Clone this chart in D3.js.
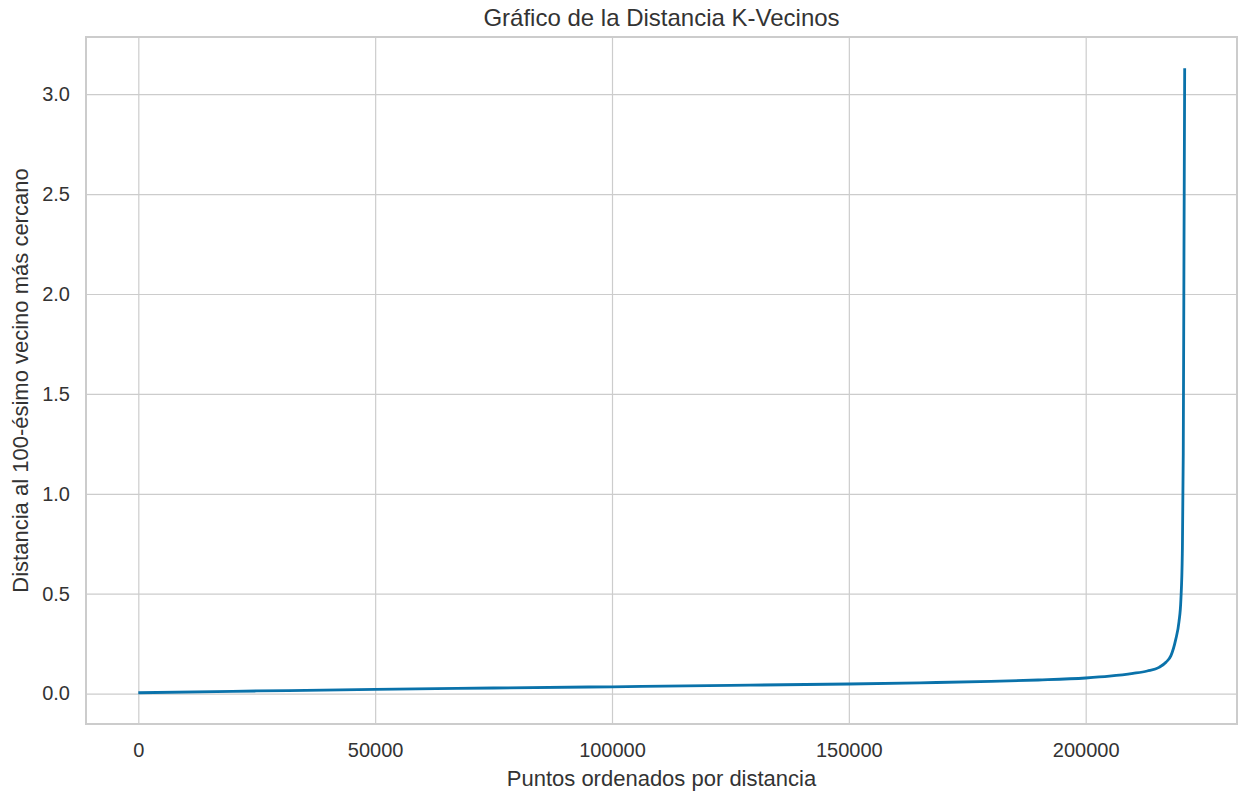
<!DOCTYPE html>
<html>
<head>
<meta charset="utf-8">
<script src="https://cdn.jsdelivr.net/npm/d3@7"></script>
<style>
  body { margin: 0; background: #fff; }
  svg { display: block; font-family: "Liberation Sans", Arial, sans-serif; }
</style>
</head>
<body>
<div id="chart"></div>
<script>
// sorted k-distance curve
const pointIndex = [0, 25000, 50000, 75000, 100000, 125000, 150000, 165000, 180000, 190000,
    200000, 205000, 210000, 213000, 215500, 217000, 218000, 219000, 219700, 220100,
    220400, 220600, 220750, 220900];
const kDistance = [0.004, 0.013, 0.021, 0.028, 0.034, 0.041, 0.048, 0.054, 0.061, 0.068,
    0.078, 0.087, 0.101, 0.113, 0.131, 0.158, 0.19, 0.27, 0.36, 0.47,
    0.70, 1.2, 2.2, 3.13];
const xTicks = [0, 50000, 100000, 150000, 200000];
const yTicks = [0, 0.5, 1.0, 1.5, 2.0, 2.5, 3.0];

const W = 1238, H = 792;
const margin = { top: 37, right: 1, bottom: 68, left: 86 };
const width = W - margin.left - margin.right;
const height = H - margin.top - margin.bottom;

const data = pointIndex.map((d, i) => ({ x: d, y: kDistance[i] }));

const svg = d3.select('#chart').append('svg')
    .attr('width', W)
    .attr('height', H);

const g = svg.append('g')
    .attr('transform', `translate(${margin.left},${margin.top})`);

// matplotlib-like 5% padding
const xExt = d3.extent(data, d => d.x);
const yExt = d3.extent(data, d => d.y);
const xPad = (xExt[1] - xExt[0]) * 0.05;
const yPad = (yExt[1] - yExt[0]) * 0.05;

const x = d3.scaleLinear().domain([xExt[0] - xPad, xExt[1] + xPad]).range([0, width]);
const y = d3.scaleLinear().domain([yExt[0] - yPad, yExt[1] + yPad]).range([height, 0]);

// grid
g.append('g')
    .attr('transform', `translate(0,${height})`)
    .call(d3.axisBottom(x).tickValues(xTicks).tickSize(-height).tickFormat(d3.format('d')).tickPadding(19))
    .call(a => a.select('.domain').remove())
    .call(a => a.selectAll('line').attr('stroke', '#cccccc').attr('stroke-width', 1.2))
    .call(a => a.selectAll('text').attr('fill', '#333').attr('font-size', '20px'));

g.append('g')
    .call(d3.axisLeft(y).tickValues(yTicks).tickSize(-width).tickFormat(d3.format('.1f')).tickPadding(16))
    .call(a => a.select('.domain').remove())
    .call(a => a.selectAll('line').attr('stroke', '#cccccc').attr('stroke-width', 1.2))
    .call(a => a.selectAll('text').attr('fill', '#333').attr('font-size', '20px'));

// frame
g.append('rect')
    .attr('width', width)
    .attr('height', height)
    .attr('fill', 'none')
    .attr('stroke', '#cccccc')
    .attr('stroke-width', 2);

// curve
const line = d3.line()
    .x(d => x(d.x))
    .y(d => y(d.y))
    .curve(d3.curveMonotoneX);

g.append('path')
    .datum(data)
    .attr('fill', 'none')
    .attr('stroke', '#0a72aa')
    .attr('stroke-width', 2.8)
    .attr('d', line);

// title and labels
svg.append('text')
    .attr('x', margin.left + width / 2)
    .attr('y', 26)
    .attr('text-anchor', 'middle')
    .attr('font-size', '24px')
    .attr('fill', '#333')
    .text('Gráfico de la Distancia K-Vecinos');

svg.append('text')
    .attr('x', margin.left + width / 2)
    .attr('y', 786)
    .attr('text-anchor', 'middle')
    .attr('font-size', '22px')
    .attr('fill', '#333')
    .text('Puntos ordenados por distancia');

svg.append('text')
    .attr('transform', `translate(28,${margin.top + height / 2}) rotate(-90)`)
    .attr('text-anchor', 'middle')
    .attr('font-size', '22px')
    .attr('fill', '#333')
    .text('Distancia al 100-ésimo vecino más cercano');
</script>
</body>
</html>
